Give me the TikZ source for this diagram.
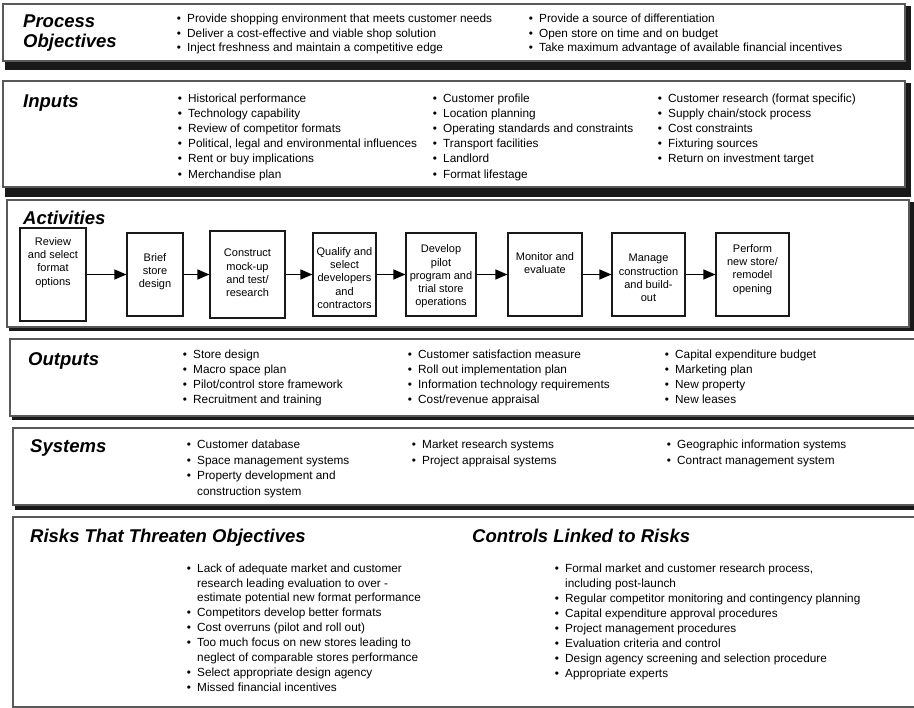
\documentclass[tikz,border=0pt]{standalone}
\usepackage{fontspec}
\setmainfont{Liberation Sans}
\usetikzlibrary{arrows.meta}

% bullet hung to the left of the text start
\newcommand{\bpt}{\makebox[0pt][r]{\textbullet\hspace{6.3pt}}}
% one column of list lines: name prefix, x, first baseline, line step, lines
\newcommand{\listcol}[5]{%
  \foreach \itm [count=\k] in {#5}{%
    \node[lineitem] (#1-\k) at (#2,{#3+(\k-1)*#4}) {\itm};}}
% framed panel with a dark drop shadow: left, top, right, bottom, shadow right, shadow bottom
\newcommand{\panelbox}[6]{%
  \fill[shadowfill] ({#1+2},{#2+2}) rectangle ({#3+#5},{#4+#6});
  \filldraw[panelline] (#1,#2) rectangle (#3,#4);}

\begin{document}
\begin{tikzpicture}[x=1pt,y=-1pt,
  panelline/.style={draw=black!65, line width=1.2pt, fill=white},
  shadowfill/.style={fill=black!90},
  actbox/.style={draw=black!90, line width=1.2pt, fill=white, inner sep=0pt},
  acttext/.style={align=center, inner sep=0pt, font=\fontsize{11}{13.3}\selectfont},
  arr/.style={line width=1.3pt, -{Triangle[length=12pt,width=10pt]}},
  heading/.style={anchor=base west, inner sep=0pt, font=\fontsize{18.5}{20}\selectfont\bfseries\itshape},
  lineitem/.style={anchor=base west, inner sep=0pt, font=\fontsize{11.8}{14}\selectfont}]

\useasboundingbox (0,0) rectangle (914,708);
\clip (0,0) rectangle (914,708);

% panels
\panelbox{3}{4}{905}{61}{6}{9}
\panelbox{3}{81}{905}{187}{6}{10}
\panelbox{7}{200}{909}{327}{5}{4}
\panelbox{10}{339}{925}{416}{5}{4}
\panelbox{13}{428}{925}{505}{5}{5}
\panelbox{13}{517}{925}{707}{5}{5}

% Process objectives
\node[heading] (h-po1) at (23,27.5) {Process};
\node[heading] (h-po2) at (23,47.5) {Objectives};
\listcol{po1}{187}{23}{14.2}{\bpt Provide shopping environment that meets customer needs,
  \bpt Deliver a cost-effective and viable shop solution,
  \bpt Inject freshness and maintain a competitive edge}
\listcol{po2}{539}{23}{14.2}{\bpt Provide a source of differentiation,
  \bpt Open store on time and on budget,
  \bpt Take maximum advantage of available financial incentives}

% Inputs
\node[heading] (h-in) at (23,108) {Inputs};
\listcol{in1}{188}{102.1}{15.2}{\bpt Historical performance,
  \bpt Technology capability,
  \bpt Review of competitor formats,
  {\bpt Political, legal and environmental influences},
  \bpt Rent or buy implications,
  \bpt Merchandise plan}
\listcol{in2}{443}{102.1}{15.2}{\bpt Customer profile,
  \bpt Location planning,
  \bpt Operating standards and constraints,
  \bpt Transport facilities,
  \bpt Landlord,
  \bpt Format lifestage}
\listcol{in3}{668}{102.1}{15.2}{\bpt Customer research (format specific),
  \bpt Supply chain/stock process,
  \bpt Cost constraints,
  \bpt Fixturing sources,
  \bpt Return on investment target}

% Activities
\node[heading] (h-ac) at (23,225) {Activities};
\node[actbox, minimum width=66pt, minimum height=93pt] (b1) at (53,274.5) {};
\node[actbox, minimum width=56pt, minimum height=83pt] (b2) at (155,274.5) {};
\node[actbox, minimum width=75pt, minimum height=87pt] (b3) at (247.5,274.5) {};
\node[actbox, minimum width=63pt, minimum height=83pt] (b4) at (344.5,274.5) {};
\node[actbox, minimum width=70pt, minimum height=83pt] (b5) at (441,274.5) {};
\node[actbox, minimum width=74pt, minimum height=83pt] (b6) at (545,274.5) {};
\node[actbox, minimum width=73pt, minimum height=83pt] (b7) at (648.5,274.5) {};
\node[actbox, minimum width=73pt, minimum height=83pt] (b8) at (752.5,274.5) {};

\node[acttext] (t1) at (53,262.5) {Review\\and select\\format\\options};
\node[acttext] (t2) at (155,271.5) {Brief\\store\\design};
\node[acttext] (t3) at (247.5,273) {Construct\\mock-up\\and test/\\research};
\node[acttext] (t4) at (344.5,278) {Qualify and\\select\\developers\\and\\contractors};
\node[acttext] (t5) at (441,276.5) {Develop\\pilot\\program and\\trial store\\operations};
\node[acttext] (t6) at (545,263) {Monitor and\\evaluate};
\node[acttext] (t7) at (648.5,278) {Manage\\construction\\and build-\\out};
\node[acttext] (t8) at (752.5,269.5) {Perform\\new store/\\remodel\\opening};

\draw[arr] (b1) -- (b2);
\draw[arr] (b2) -- (b3);
\draw[arr] (b3) -- (b4);
\draw[arr] (b4) -- (b5);
\draw[arr] (b5) -- (b6);
\draw[arr] (b6) -- (b7);
\draw[arr] (b7) -- (b8);

% Outputs
\node[heading] (h-ou) at (28,366) {Outputs};
\listcol{ou1}{193}{358.8}{15}{\bpt Store design,
  \bpt Macro space plan,
  \bpt Pilot/control store framework,
  \bpt Recruitment and training}
\listcol{ou2}{418}{358.8}{15}{\bpt Customer satisfaction measure,
  \bpt Roll out implementation plan,
  \bpt Information technology requirements,
  \bpt Cost/revenue appraisal}
\listcol{ou3}{675}{358.8}{15}{\bpt Capital expenditure budget,
  \bpt Marketing plan,
  \bpt New property,
  \bpt New leases}

% Systems
\node[heading] (h-sy) at (30,453) {Systems};
\listcol{sy1}{197}{448.8}{15.5}{\bpt Customer database,
  \bpt Space management systems,
  \bpt Property development and,
  construction system}
\listcol{sy2}{422}{448.8}{15.5}{\bpt Market research systems,
  \bpt Project appraisal systems}
\listcol{sy3}{677}{448.8}{15.5}{\bpt Geographic information systems,
  \bpt Contract management system}

% Risks and controls
\node[heading] (h-ri) at (30,543) {Risks That Threaten Objectives};
\node[heading] (h-co) at (472,543) {Controls Linked to Risks};
\listcol{ri}{197}{572.1}{14.9}{\bpt Lack of adequate market and customer,
  research leading evaluation to over -,
  estimate potential new format performance,
  \bpt Competitors develop better formats,
  \bpt Cost overruns (pilot and roll out),
  \bpt Too much focus on new stores leading to,
  neglect of comparable stores performance,
  \bpt Select appropriate design agency,
  \bpt Missed financial incentives}
\listcol{co}{565}{572.1}{15.1}{{\bpt Formal market and customer research process,},
  including post-launch,
  \bpt Regular competitor monitoring and contingency planning,
  \bpt Capital expenditure approval procedures,
  \bpt Project management procedures,
  \bpt Evaluation criteria and control,
  \bpt Design agency screening and selection procedure,
  \bpt Appropriate experts}

\end{tikzpicture}
\end{document}
